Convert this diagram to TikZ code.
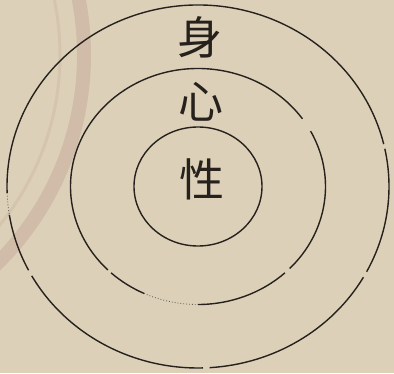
\documentclass[tikz,border=0pt]{standalone}
\usepackage{fontspec}
\newfontfamily\cjk{Noto Sans CJK TC}
\usetikzlibrary{positioning}
\definecolor{paper}{RGB}{220,209,184}
\definecolor{sealband}{RGB}{208,188,168}
\definecolor{ink}{RGB}{38,33,28}
\tikzset{
	ring/.style={line width=1.4pt, draw=ink},
	faintring/.style={line width=0.9pt, draw=ink!70, dotted}
}
\tikzset{
	glyph/.style={font=\cjk\fontsize{45}{45}\selectfont, text=ink, inner sep=0pt}
}

\begin{document}
\begin{tikzpicture}[x=1pt, y=1pt]
      \useasboundingbox (0,0) rectangle (394,373);
      \fill[paper] (0,0) rectangle (394,373);
      % seal printed through from the back of the page
      \begin{scope}
        \clip (0,0) rectangle (394,373);
        \draw[sealband, line width=14pt] (-210,318) circle[radius=294];
        \draw[sealband!60!paper, line width=3pt] (-210,318) circle[radius=270];
      \end{scope}
      \coordinate (O) at (198,186.5);
      % outer ring (body)
      \foreach \a/\b in {13.5/182, 189/207.5, 209.5/271.5, 273.5/330, 332/372}
        \draw[ring] (O) ++(\a:191 and 181.5) arc[start angle=\a, end angle=\b, x radius=191, y radius=181.5];
      \draw[faintring] (O) ++(182:191 and 181.5) arc[start angle=182, end angle=189, x radius=191, y radius=181.5];
      % middle ring (mind)
      \foreach \a/\b in {35/225, 227/245, 270/313, 316/388}
        \draw[ring] (O) ++(\a:127.5 and 118) arc[start angle=\a, end angle=\b, x radius=127.5, y radius=118];
      \draw[faintring] (O) ++(245:127.5 and 118) arc[start angle=245, end angle=270, x radius=127.5, y radius=118];
      % inner ring (nature)
      \draw[ring] (O) ellipse[x radius=64, y radius=59.5];
      % labels
      \node[glyph] (shen) at (200,336) {身};
      \node[glyph] (xin) at (201,271) {心};
      \node[glyph] (xing) at (202,194) {性};
    \end{tikzpicture}
\end{document}
